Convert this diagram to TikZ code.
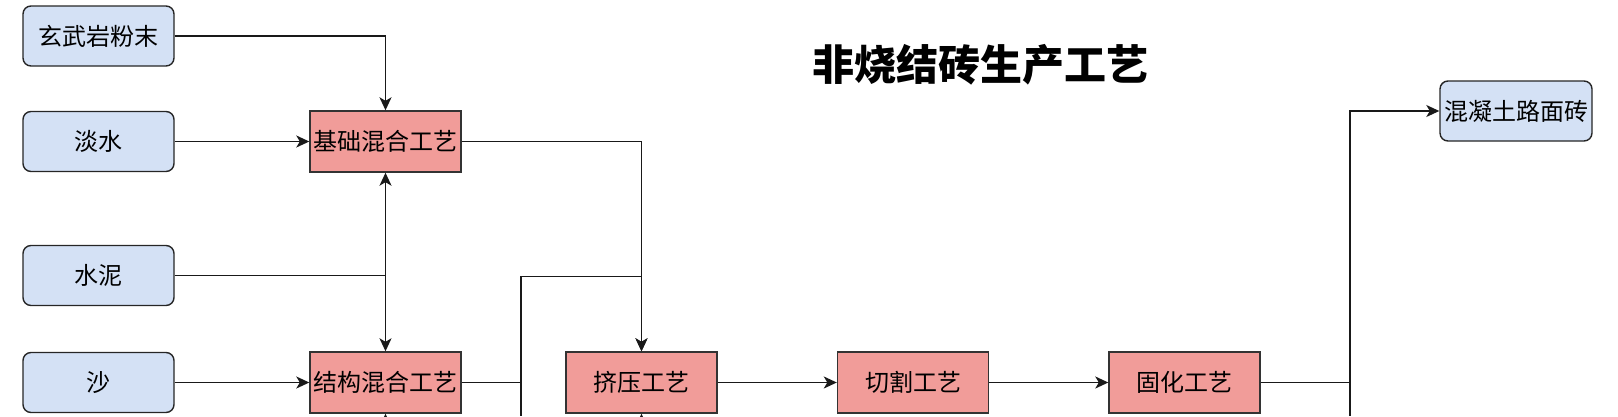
\documentclass[tikz,border=0pt]{standalone}
\usepackage{fontspec}
\setmainfont{Noto Sans CJK SC}
\usetikzlibrary{arrows.meta}
\definecolor{rawfill}{HTML}{D4E1F5}
\definecolor{procfill}{HTML}{F19C99}
\tikzset{
  raw/.style={
    draw=black!85,fill=rawfill,rounded corners=8pt,line width=1.4pt,
    minimum width=151pt,minimum height=60pt,inner sep=0pt,
    font=\fontsize{24}{28}\selectfont
  },
  proc/.style={
    draw=black!80,fill=procfill,line width=1.4pt,
    minimum width=151pt,minimum height=61pt,inner sep=0pt,
    font=\fontsize{24}{28}\selectfont
  },
  wire/.style={line width=1.5pt,draw=black!90},
  flow/.style={wire,-{Stealth[length=13pt,width=12pt,inset=3.5pt]}}
}

\begin{document}
\begin{tikzpicture}[x=1pt,y=-1pt]
\useasboundingbox (0,0) rectangle (1618,416);
\node[font=\fontsize{42}{48}\selectfont\bfseries] (title) at (980,65) {非烧结砖生产工艺};
% raw materials
\node[raw] (basalt) at (98.5,36) {玄武岩粉末};
\node[raw] (water) at (98.5,141.5) {淡水};
\node[raw] (cement) at (98.5,275.5) {水泥};
\node[raw] (sand) at (98.5,382.5) {沙};
% processes
\node[proc] (basemix) at (385.5,141.5) {基础混合工艺};
\node[proc] (structmix) at (385.5,382.5) {结构混合工艺};
\node[proc] (extrude) at (641.5,382.5) {挤压工艺};
\node[proc] (cut) at (913,382.5) {切割工艺};
\node[proc] (cure) at (1184.5,382.5) {固化工艺};
\node[raw,minimum width=152pt] (paver) at (1516,111) {混凝土路面砖};
% turning points and loose ends
\coordinate (bendA) at (521,276.5);
\coordinate (lowA) at (521,416);
\coordinate (bendB) at (1350,382.5);
\coordinate (lowB) at (1350,416);
\coordinate (lowS) at (385.5,440);
\coordinate (lowE) at (641.5,440);

\draw[flow] (basalt) -| (basemix);
\draw[flow] (water) -- (basemix);
\draw[flow] (cement) -| (basemix);
\draw[flow] (cement) -| (structmix);
\draw[flow] (sand) -- (structmix);
\draw[flow] (basemix) -| (extrude);
\draw[flow] (structmix) -| (bendA) -| (extrude);
\draw[wire] (bendA) -- (lowA);
\draw[flow] (lowS) -- (structmix);
\draw[flow] (lowE) -- (extrude);
\draw[flow] (extrude) -- (cut);
\draw[flow] (cut) -- (cure);
\draw[flow] (cure) -- (bendB) |- (paver);
\draw[wire] (bendB) -- (lowB);
\end{tikzpicture}
\end{document}
